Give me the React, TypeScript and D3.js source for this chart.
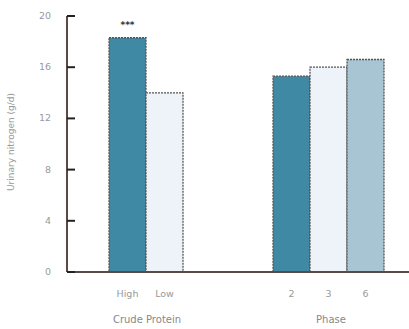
import React from "react";
import * as d3 from "d3";

const categories = ["High", "Low", "2", "3", "6"];
const groups = ["Crude Protein", "Crude Protein", "Phase", "Phase", "Phase"];
const values = [18.3, 14.0, 15.3, 16.0, 16.6];
const fills = ["#3f89a5", "#edf3f8", "#3f89a5", "#edf3f8", "#a7c5d3"];
const yTicks = [0, 4, 8, 12, 16, 20];
const groupLabels = ["Crude Protein", "Phase"];
const significance = ["***", "", "", "", ""];

export default function App() {
  const W = 409, H = 329;
  const x0 = 67, yTop = 16, yBot = 272;
  const y = d3.scaleLinear().domain([0, 20]).range([yBot, yTop]);
  const xCP = d3.scaleBand().domain(["High", "Low"]).range([109, 183]).padding(0);
  const xPh = d3.scaleBand().domain(["2", "3", "6"]).range([273, 384]).padding(0);
  const xOf = (i: number) => (groups[i] === "Phase" ? xPh : xCP);
  const groupCenter: Record<string, number> = { "Crude Protein": 147, Phase: 331 };

  return (
    <svg width={W} height={H} style={{ position: "absolute", left: 0, top: 0 }}>
      <rect width={W} height={H} fill="#fff" />
      {categories.map((c, i) => {
        const sc = xOf(i);
        const bx = sc(c)!;
        const bw = sc.bandwidth();
        return (
          <g key={c}>
            <rect x={bx} y={y(values[i])} width={bw} height={yBot - y(values[i])}
              fill={fills[i]} stroke="#555" strokeWidth={1.3} strokeDasharray="2,1" />
            {significance[i] && (
              <text x={bx + bw / 2} y={y(values[i]) - 10} textAnchor="middle"
                fontFamily="DejaVu Sans" fontSize={9} fill="#333" fontWeight="bold">{significance[i]}</text>
            )}
            <text x={bx + bw / 2} y={297} textAnchor="middle" fontFamily="DejaVu Sans"
              fontSize={9.5} fill="#999">{c}</text>
          </g>
        );
      })}
      <line x1={x0} x2={x0} y1={yTop} y2={yBot} stroke="#5a4a44" strokeWidth={2} />
      <line x1={x0} x2={W} y1={yBot} y2={yBot} stroke="#5a4a44" strokeWidth={2} />
      {yTicks.map((t) => (
        <g key={t}>
          <line x1={x0} x2={x0 + 8} y1={y(t)} y2={y(t)} stroke="#222" strokeWidth={2} />
          <text x={x0 - 16} y={y(t) + 3} textAnchor="end" fontFamily="DejaVu Sans"
            fontSize={9.5} fill="#999">{t}</text>
        </g>
      ))}
      <text transform={`translate(14,${(yTop + yBot) / 2 - 2}) rotate(-90)`} textAnchor="middle"
        fontFamily="DejaVu Sans" fontSize={9} fill="#999">Urinary nitrogen (g/d)</text>
      {groupLabels.map((g) => (
        <text key={g} x={groupCenter[g]} y={323} textAnchor="middle" fontFamily="DejaVu Sans"
          fontSize={10} fill="#888">{g}</text>
      ))}
    </svg>
  );
}
